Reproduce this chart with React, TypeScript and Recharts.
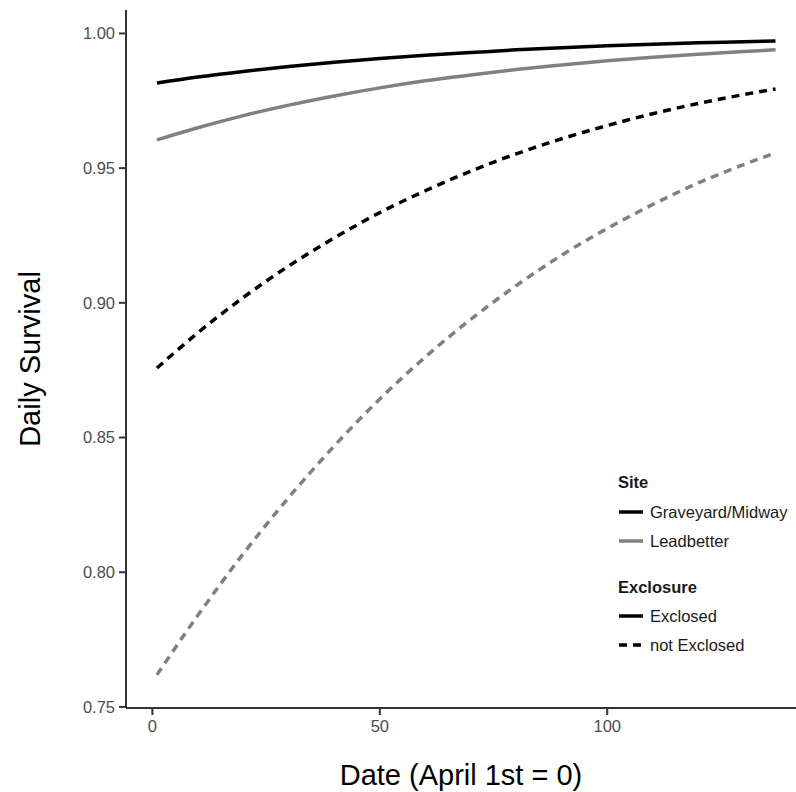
import { LineChart, Line, XAxis, YAxis, Label } from 'recharts';

// days since April 1st
const dates = [1, 10, 20, 30, 40, 50, 60, 70, 80, 90, 100, 110, 120, 130, 137];

// daily survival
const graveyardExclosed = [0.9816, 0.9838, 0.9859, 0.9877, 0.9893, 0.9907, 0.9919, 0.9929, 0.9939, 0.9947, 0.9954, 0.9960, 0.9965, 0.9969, 0.9972];
const leadbetterExclosed = [0.9605, 0.9650, 0.9695, 0.9734, 0.9768, 0.9798, 0.9824, 0.9846, 0.9866, 0.9883, 0.9899, 0.9912, 0.9923, 0.9933, 0.9939];
const graveyardOpen = [0.8758, 0.8889, 0.9020, 0.9137, 0.9241, 0.9335, 0.9416, 0.9489, 0.9553, 0.9609, 0.9658, 0.9702, 0.9740, 0.9773, 0.9794];
const leadbetterOpen = [0.7619, 0.7840, 0.8069, 0.8278, 0.8469, 0.8643, 0.8799, 0.8939, 0.9064, 0.9177, 0.9276, 0.9365, 0.9445, 0.9513, 0.9557];

const xTicks = [0, 50, 100];
const yTicks = [0.75, 0.8, 0.85, 0.9, 0.95, 1.0];

const data = dates.map((d, i) => ({
  date: d,
  gmExcl: graveyardExclosed[i],
  lbExcl: leadbetterExclosed[i],
  gmOpen: graveyardOpen[i],
  lbOpen: leadbetterOpen[i],
}));

const BLACK = '#000000';
const GREY = '#808080';
const FONT = '"Liberation Sans", Arial, Helvetica, sans-serif';

const Key = ({ color, dashed }: { color: string; dashed?: boolean }) => (
  <svg width={26} height={8} style={{ display: 'block' }}>
    <line
      x1={1}
      y1={4}
      x2={25}
      y2={4}
      stroke={color}
      strokeWidth={3.5}
      strokeDasharray={dashed ? '8 6' : undefined}
    />
  </svg>
);

const Row = ({ top, color, dashed, text }: any) => (
  <div style={{ position: 'absolute', top, left: 0, display: 'flex', alignItems: 'center', height: 20 }}>
    <Key color={color} dashed={dashed} />
    <span style={{ marginLeft: 6, whiteSpace: 'nowrap' }}>{text}</span>
  </div>
);

// legend drawn as an overlay so it doesn't eat into the plot area
const LegendBox = () => (
  <div style={{ position: 'absolute', left: 618, top: 472, width: 178, height: 200, fontFamily: FONT, fontSize: 16.5, color: '#1a1a1a' }}>
    <div style={{ position: 'absolute', top: 1, left: 0, fontWeight: 'bold' }}>Site</div>
    <Row top={30} color={BLACK} text="Graveyard/Midway" />
    <Row top={59} color={GREY} text="Leadbetter" />
    <div style={{ position: 'absolute', top: 106, left: 0, fontWeight: 'bold' }}>Exclosure</div>
    <Row top={134} color={BLACK} text="Exclosed" />
    <Row top={163} color={BLACK} dashed text="not Exclosed" />
  </div>
);

export default function App() {
  const tickStyle = { fill: '#4d4d4d', fontSize: 16.5, fontFamily: FONT };
  const axisLine = { stroke: '#333333', strokeWidth: 2 };
  return (
    <div style={{ position: 'absolute', left: 0, top: 0, width: 796, height: 792, background: '#fff', overflow: 'hidden' }}>
      <LineChart width={796} height={792} data={data} margin={{ top: 10, right: 0, left: 0, bottom: 0 }}>
        <XAxis
          dataKey="date"
          type="number"
          domain={[-5.8, 141.5]}
          ticks={xTicks}
          allowDataOverflow
          height={84}
          tick={tickStyle}
          tickSize={7}
          tickMargin={5}
          axisLine={axisLine}
          tickLine={axisLine}
        >
          <Label
            value="Date (April 1st = 0)"
            position="insideBottom"
            offset={7}
            style={{ fill: '#000', fontSize: 29, fontFamily: FONT }}
          />
        </XAxis>
        <YAxis
          type="number"
          domain={[0.7496, 1.0087]}
          ticks={yTicks}
          allowDataOverflow
          width={126}
          tick={tickStyle}
          tickSize={7}
          tickMargin={4}
          tickFormatter={(v: number) => v.toFixed(2)}
          axisLine={axisLine}
          tickLine={axisLine}
        >
          <Label
            value="Daily Survival"
            angle={-90}
            position="insideLeft"
            offset={30}
            style={{ fill: '#000', fontSize: 29, fontFamily: FONT, textAnchor: 'middle' }}
          />
        </YAxis>
        <Line dataKey="lbOpen" type="monotone" stroke={GREY} strokeWidth={3.5} strokeDasharray="8 6" dot={false} isAnimationActive={false} />
        <Line dataKey="gmOpen" type="monotone" stroke={BLACK} strokeWidth={3.5} strokeDasharray="8 6" dot={false} isAnimationActive={false} />
        <Line dataKey="lbExcl" type="monotone" stroke={GREY} strokeWidth={3.5} dot={false} isAnimationActive={false} />
        <Line dataKey="gmExcl" type="monotone" stroke={BLACK} strokeWidth={3.5} dot={false} isAnimationActive={false} />
      </LineChart>
      <LegendBox />
    </div>
  );
}
